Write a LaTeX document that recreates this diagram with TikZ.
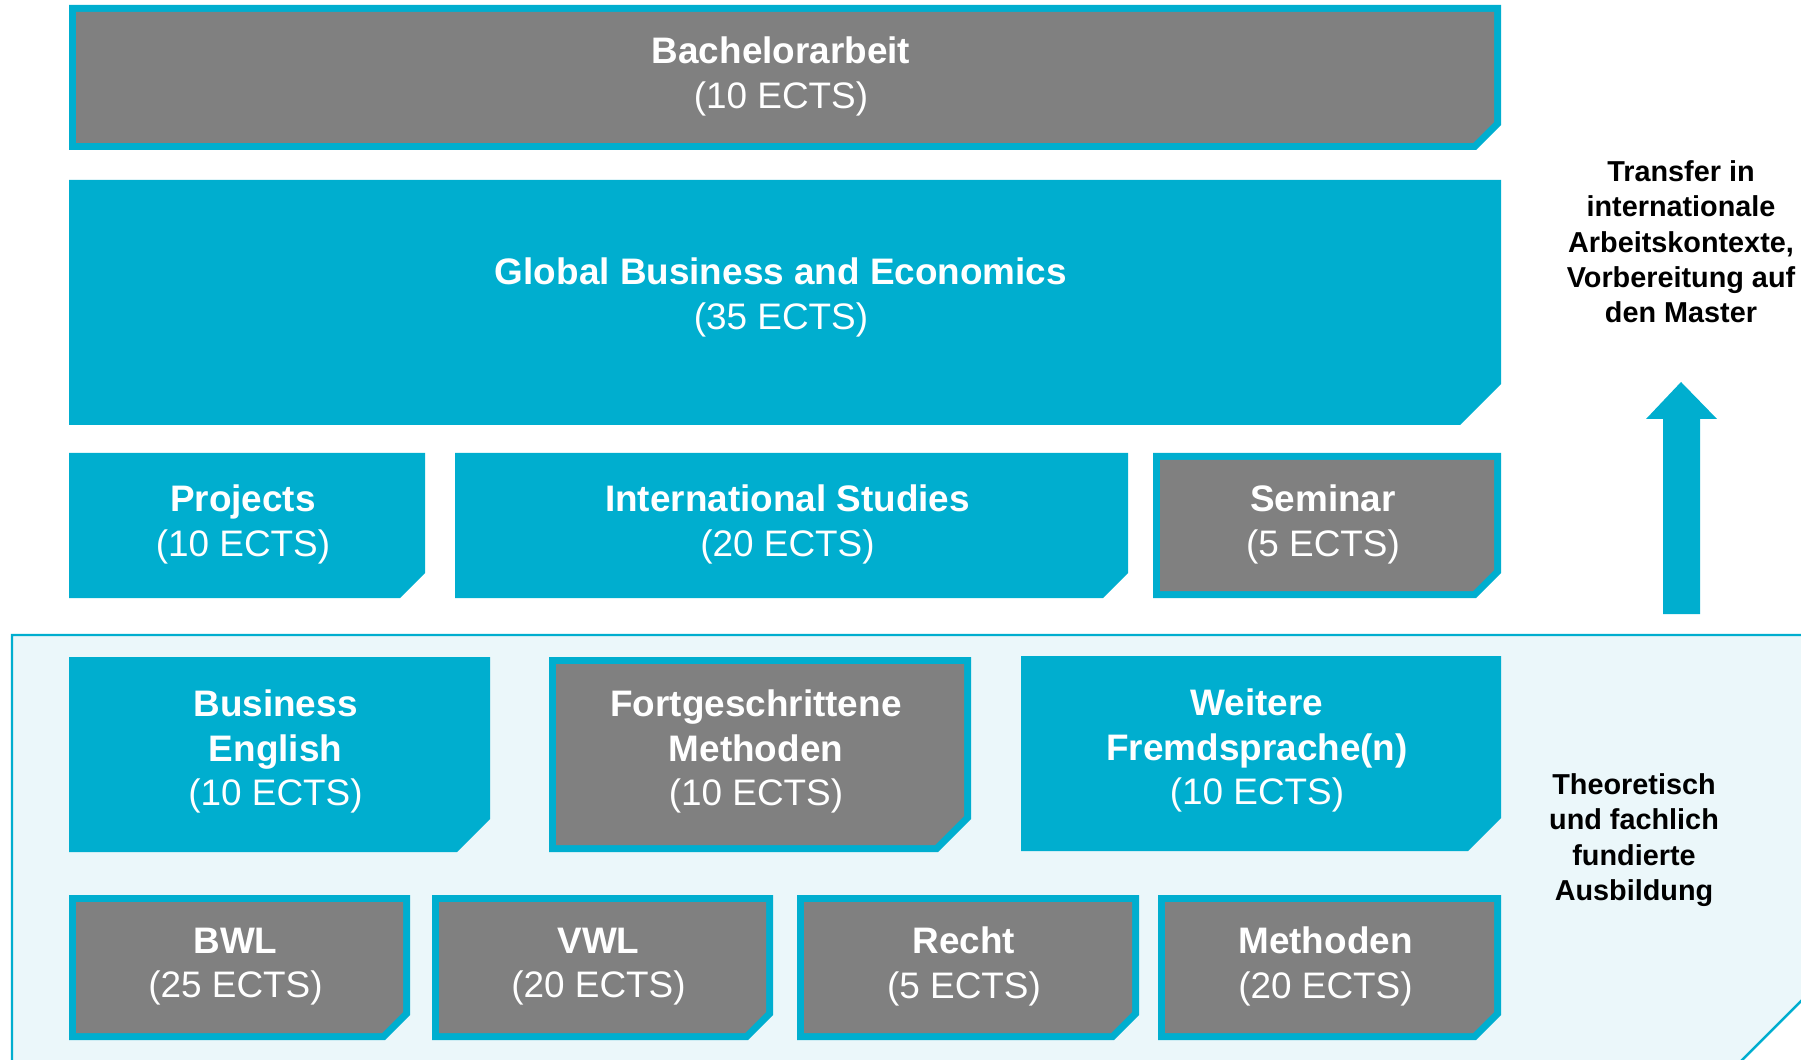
\documentclass[tikz,border=0pt]{standalone}
\usepackage{fontspec}
\setmainfont{Liberation Sans}
\usepackage{xcolor}
\usetikzlibrary{calc}

\definecolor{hsblue}{RGB}{0,174,207}
\definecolor{hsgray}{RGB}{128,128,128}
\definecolor{hslight}{RGB}{235,247,250}

\begin{document}
\begin{tikzpicture}[x=0.02cm,y=-0.02cm,
                    box text/.style={text=white,align=center,font=\fontsize{21}{25.4}\selectfont},
                    side text/.style={text=black,align=center,font=\fontsize{16.4}{20.1}\selectfont\bfseries}]

  \path[use as bounding box] (0,0) rectangle (1801,1060);

  \begin{scope}
    \clip (0,0) rectangle (1801,1060);
    \path[fill=hslight,draw=hsblue,line width=1.4pt] (12,1080) -- (12,635) -- (1850,635) -- (1850,952) -- (1722,1080);
  \end{scope}

  \foreach \nm/\xa/\ya/\xb/\yb/\c/\fc/\txt in {
      bachelor/69/5/1501/150/25/hsgray/{\textbf{Bachelorarbeit}\\(10 ECTS)},
      global/69/180/1501/425/41/hsblue/{\textbf{Global Business and Economics}\\(35 ECTS)},
      projects/69/453/425/598/25/hsblue/{\textbf{Projects}\\(10 ECTS)},
      intstud/455/453/1128/598/25/hsblue/{\textbf{International Studies}\\(20 ECTS)},
      seminar/1153/453/1501/598/25/hsgray/{\textbf{Seminar}\\(5 ECTS)},
      busengl/69/657/490/852/33/hsblue/{\textbf{Business}\\\textbf{English}\\(10 ECTS)},
      fortmeth/549/657/971/852/33/hsgray/{\textbf{Fortgeschrittene}\\\textbf{Methoden}\\(10 ECTS)},
      fremdspr/1021/656/1501/851/33/hsblue/{\textbf{Weitere}\\\textbf{Fremdsprache(n)}\\(10 ECTS)},
      bwl/69/895/410/1040/25/hsgray/{\textbf{BWL}\\(25 ECTS)},
      vwl/432/895/773/1040/25/hsgray/{\textbf{VWL}\\(20 ECTS)},
      recht/797/895/1139/1040/25/hsgray/{\textbf{Recht}\\(5 ECTS)},
      methoden/1158/895/1501/1040/25/hsgray/{\textbf{Methoden}\\(20 ECTS)}}
  {
    \fill[hsblue] (\xa,\ya) -- (\xb,\ya) -- ({\xb},{\yb-\c}) -- ({\xb-\c},{\yb}) -- (\xa,\yb) -- cycle;
    \fill[\fc] ({\xa+7},{\ya+7}) -- ({\xb-7},{\ya+7}) -- ({\xb-7},{\yb-\c-3}) -- ({\xb-\c-3},{\yb-7}) -- ({\xa+7},{\yb-7}) -- cycle;
    \node[box text] (\nm) at ({(\xa+\xb)/2-4},{(\ya+\yb)/2-1-(\c-25)/4}) {\txt};
  }

  \fill[hsblue] (1663,614) -- (1663,419) -- (1646,419) -- (1681,382) -- (1717,419) -- (1700,419) -- (1700,614) -- cycle;

  \node[side text] (transfer) at (1681,242) {Transfer in\\internationale\\Arbeitskontexte,\\Vorbereitung auf\\den Master};
  \node[side text] (fundiert) at (1634,840) {Theoretisch\\und fachlich\\fundierte\\Ausbildung};

\end{tikzpicture}
\end{document}
